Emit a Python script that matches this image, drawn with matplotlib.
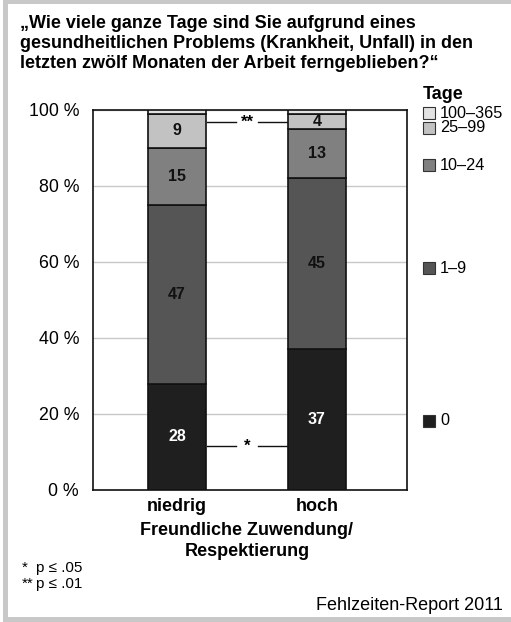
import matplotlib.pyplot as plt
import matplotlib.patches as patches
import matplotlib.transforms as mtransforms

plt.rcParams['font.family'] = ['Liberation Sans', 'DejaVu Sans']

# Daten
gruppen = ['niedrig', 'hoch']
kategorien = ['0', '1–9', '10–24', '25–99', '100–365']
werte = {
    '0':       [28, 37],
    '1–9':     [47, 45],
    '10–24':   [15, 13],
    '25–99':   [9, 4],
    '100–365': [1, 1],
}
labels_sichtbar = ['0', '1–9', '10–24', '25–99']
farben = ['#1f1f1f', '#555555', '#808080', '#c2c2c2', '#e2e2e2']
legende_y = [18.2, 58.4, 85.5, 95.3, 99.2]

fig = plt.figure(figsize=(5.11, 6.22), dpi=100)
ax = fig.add_axes([93/511, 1-490/622, 314/511, 380/622])

x = [0, 1]
unten = [0, 0]
for kat, col in zip(kategorien, farben):
    v = werte[kat]
    ax.bar(x, v, width=0.41, bottom=unten, color=col, edgecolor='#111111', linewidth=1.2, zorder=3)
    if kat in labels_sichtbar:
        for i in range(2):
            ax.text(x[i], unten[i] + v[i]/2, str(v[i]), ha='center', va='center',
                    fontsize=11.5, fontweight='bold',
                    color='white' if kat == '0' else '#111111', zorder=4)
    unten = [unten[i] + v[i] for i in range(2)]

ax.set_xlim(-0.6, 1.643)
ax.set_ylim(0, 100)
ax.set_yticks([0, 20, 40, 60, 80, 100])
ax.set_yticklabels([f'{t} %' for t in [0, 20, 40, 60, 80, 100]], fontsize=12.8)
ax.tick_params(axis='y', length=0, pad=10)
ax.set_xticks(x)
ax.set_xticklabels(gruppen, fontsize=13, fontweight='bold')
ax.tick_params(axis='x', length=0, pad=6)
ax.yaxis.grid(True, color='#c8c8c8', linewidth=1, zorder=0)
for s in ax.spines.values():
    s.set_linewidth(1.2)
    s.set_color('#111111')

# Signifikanzlinien
for y, stern in [(96.8, '**'), (11.6, '*')]:
    ax.plot([0.215, 0.42], [y, y], color='#111111', lw=1, zorder=2)
    ax.plot([0.58, 0.785], [y, y], color='#111111', lw=1, zorder=2)
    ax.text(0.5, y, stern, ha='center', va='center', fontsize=12, fontweight='bold', zorder=3)

# Legende
trans = mtransforms.blended_transform_factory(ax.transAxes, ax.transData)
for kat, col, ly in zip(kategorien, farben, legende_y):
    ax.add_patch(patches.Rectangle((1.051, ly - 1.6), 0.038, 3.2, transform=trans,
                                   facecolor=col, edgecolor='#333333', lw=0.8, clip_on=False))
    ax.text(1.105, ly, kat, transform=trans, ha='left', va='center', fontsize=11.7, clip_on=False)
ax.text(1.051, 104.2, 'Tage', transform=trans, ha='left', va='center', fontsize=13,
        fontweight='bold', clip_on=False)

# Texte
fig.text(20/511, 1-15/622,
         '„Wie viele ganze Tage sind Sie aufgrund eines\n'
         'gesundheitlichen Problems (Krankheit, Unfall) in den\n'
         'letzten zwölf Monaten der Arbeit ferngeblieben?“',
         ha='left', va='top', fontsize=13, fontweight='bold', linespacing=1.25)
fig.text(247/511, 1-541/622, 'Freundliche Zuwendung/\nRespektierung', ha='center', va='center',
         fontsize=13, fontweight='bold', linespacing=1.25)
fig.text(22/511, 1-568/622, '*', ha='left', va='center', fontsize=11)
fig.text(22/511, 1-584/622, '**', ha='left', va='center', fontsize=11)
fig.text(36/511, 1-568/622, 'p ≤ .05', ha='left', va='center', fontsize=11)
fig.text(36/511, 1-584/622, 'p ≤ .01', ha='left', va='center', fontsize=11)
fig.text(503/511, 1-605/622, 'Fehlzeiten-Report 2011', ha='right', va='center', fontsize=13)

# grauer Rahmen (links, oben, unten)
for (rx, ry, rw, rh) in [(3, 0, 5, 622), (3, 0, 508, 3.5), (3, 617, 508, 5)]:
    fig.patches.append(patches.Rectangle((rx/511, 1-(ry+rh)/622), rw/511, rh/622,
                                         transform=fig.transFigure, facecolor='#c8c8c8', lw=0))

fig.savefig('out.png', dpi=100, facecolor='white')
